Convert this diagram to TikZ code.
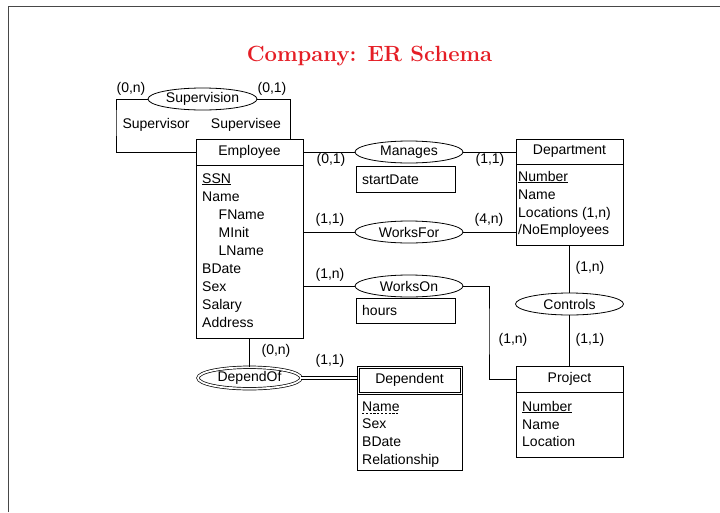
\documentclass[tikz,border=0pt]{standalone}
\usepackage{fontspec}
\newfontfamily\dfont{Liberation Sans}
\usetikzlibrary{shapes.geometric}
\definecolor{titlered}{RGB}{229,30,38}
\tikzset{
  dtext/.style={font=\dfont\fontsize{14}{16}\selectfont},
  entbox/.style={draw, line width=0.8pt, minimum width=107pt, inner sep=0pt, dtext},
  attrbox/.style={draw, line width=0.8pt, inner sep=0pt},
  relell/.style={draw, ellipse, line width=0.8pt, minimum width=108pt, minimum height=22pt, inner sep=0pt, dtext},
  attr/.style={anchor=base west, inner sep=0pt, dtext},
  card/.style={inner sep=0pt, dtext},
  conn/.style={line width=0.8pt},
  frameline/.style={line width=1.3pt, black!72},
}
\begin{document}
\begin{tikzpicture}[x=1pt,y=-1pt]
\useasboundingbox (0,0) rectangle (720,512);
% frame
\coordinate (fbl) at (8.5,512);
\coordinate (ftl) at (8.5,6.5);
\coordinate (ftr) at (720,6.5);
\draw[frameline] (fbl) -- (ftl) -- (ftr);
% title
\node[anchor=base, inner sep=0pt, text=titlered, font=\bfseries\fontsize{22}{26}\selectfont] (title) at (369.5,61.5) {Company: ER Schema};

% Employee
\node[entbox, minimum height=26pt] (emp) at (249.5,152) {Employee};
\node[attrbox, minimum width=107pt, minimum height=173pt] (eattr) at (249.5,251.5) {};
\node[attr] (e1) at (202,183) {\underline{SSN}};
\node[attr] (e2) at (202,201) {Name};
\node[attr] (e3) at (218.5,219) {FName};
\node[attr] (e4) at (218.5,237) {MInit};
\node[attr] (e5) at (218.5,255) {LName};
\node[attr] (e6) at (202,273) {BDate};
\node[attr] (e7) at (202,291) {Sex};
\node[attr] (e8) at (202,309) {Salary};
\node[attr] (e9) at (202,327) {Address};

% Department
\node[entbox, minimum height=25pt] (dept) at (569.5,151.5) {Department};
\node[attrbox, minimum width=107pt, minimum height=81pt] (dattr) at (569.5,204.5) {};
\node[attr] (d1) at (518,181) {\underline{Number}};
\node[attr] (d2) at (518,199) {Name};
\node[attr] (d3) at (518,217) {Locations (1,n)};
\node[attr] (d4) at (518,234.5) {/NoEmployees};

% Project
\node[entbox, minimum height=26pt] (proj) at (569.5,379) {Project};
\node[attrbox, minimum width=107pt, minimum height=65pt] (pattr) at (569.5,424.5) {};
\node[attr] (p1) at (522,411) {\underline{Number}};
\node[attr] (p2) at (522,429) {Name};
\node[attr] (p3) at (522,446.5) {Location};

% Dependent (weak entity)
\node[entbox, minimum width=105pt, minimum height=28pt] (dh) at (409.5,380) {Dependent};
\draw[line width=0.8pt] ([shift={(2.5pt,-2.5pt)}]dh.north west) rectangle ([shift={(-2.5pt,2.5pt)}]dh.south east);
\node[attrbox, minimum width=105pt, minimum height=76pt] (dpattr) at (409.5,432) {};
\node[attr] (n1) at (362,411) {Name};
\draw[line width=0.6pt, dash pattern=on 2.2pt off 1.6pt] ([yshift=-2.2pt]n1.base west) -- ([yshift=-2.2pt]n1.base east);
\node[attr] (n2) at (362,428.5) {Sex};
\node[attr] (n3) at (362,446) {BDate};
\node[attr] (n4) at (362,464) {Relationship};

% relationship attribute boxes
\node[attrbox, minimum width=99pt, minimum height=26pt] (sdbox) at (405.5,179) {};
\node[attr] (sd) at (362,184) {startDate};
\node[attrbox, minimum width=99pt, minimum height=25pt] (hbox) at (405.5,310.5) {};
\node[attr] (hr) at (362,315.5) {hours};

% relationships
\node[relell, minimum width=109pt] (sup) at (202.5,99) {Supervision};
\node[relell] (man) at (409,152) {Manages};
\node[relell] (wf) at (409,232) {WorksFor};
\node[relell] (won) at (409,286) {WorksOn};
\node[relell] (ctl) at (569.5,304) {Controls};
\node[relell, minimum width=103pt, minimum height=21.5pt, line width=0.7pt, double, double distance=1.8pt] (dep) at (249.5,378) {DependOf};

% connectors
\coordinate (supL) at (116,120);
\coordinate (supR) at (290,139);
\coordinate (wonC) at (489,330);
\draw[conn] (sup.west) -| (supL) |- (emp.west);
\draw[conn] (sup.east) -| (supR);
\draw[conn] (emp.east) -- (man.west);
\draw[conn] (man.east) -- (man.east -| dept.west);
\draw[conn] (wf.west -| eattr.east) -- (wf.west);
\draw[conn] (wf.east) -- (wf.east -| dattr.west);
\draw[conn] (won.west -| eattr.east) -- (won.west);
\draw[conn] (won.east) -| (wonC) |- (proj.west);
\draw[conn] (dattr.south) -- (ctl.north);
\draw[conn] (ctl.south) -- (proj.north);
\draw[conn] (eattr.south) -- (dep.north);
\draw[line width=0.7pt, double, double distance=1.8pt] (dep.east) -- (dep.east -| dh.west);

% labels
\node[card] (c1) at (131,89) {(0,n)};
\node[card] (c2) at (272,89) {(0,1)};
\node[card] (r1) at (156,125) {Supervisor};
\node[card] (r2) at (246,125) {Supervisee};
\node[card] (c3) at (331,160) {(0,1)};
\node[card] (c4) at (490,160) {(1,1)};
\node[card] (c5) at (330,220) {(1,1)};
\node[card] (c6) at (489,220) {(4,n)};
\node[card] (c7) at (330,275) {(1,n)};
\node[card] (c8) at (590,268) {(1,n)};
\node[card] (c9) at (590,340) {(1,1)};
\node[card] (c10) at (513,340) {(1,n)};
\node[card] (c11) at (276,351) {(0,n)};
\node[card] (c12) at (330,361) {(1,1)};
\end{tikzpicture}
\end{document}
